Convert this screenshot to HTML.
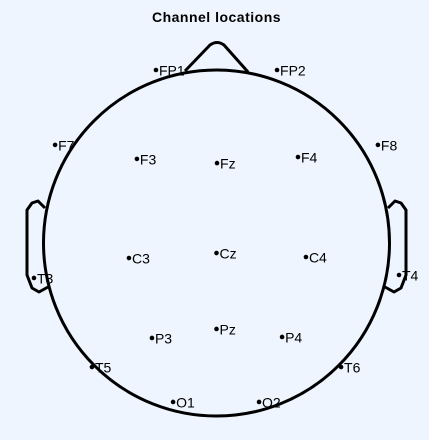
<!DOCTYPE html>
<html><head><meta charset="utf-8"><style>
html,body{margin:0;padding:0;background:#eef5fe;}
svg{display:block;font-family:"Liberation Sans",sans-serif;}
</style></head><body>
<svg id="chart" width="429" height="440" viewBox="0 0 429 440">
<rect x="0" y="0" width="429" height="440" fill="#eef5fe"/>
<text x="216.5" y="22" text-anchor="middle" font-weight="bold" font-size="14" letter-spacing="0.5">Channel locations</text>
<g id="head" fill="none" stroke="#000" stroke-width="3" stroke-linejoin="round"></g>
<g id="chans"></g>
</svg>
<script>
const channelNames = ["FP1","FP2","F7","F3","Fz","F4","F8","C3","Cz","C4","T3","T4","P3","Pz","P4","T5","T6","O1","O2"];
const channelX = [-0.35,0.35,-0.933,-0.460,0.003,0.471,0.933,-0.506,0,0.517,-1.055,1.055,-0.373,0,0.379,-0.720,0.720,-0.251,0.246];
const channelY = [1.0,1.0,0.567,0.486,0.462,0.497,0.567,-0.087,-0.058,-0.081,-0.202,-0.185,-0.549,-0.497,-0.543,-0.717,-0.717,-0.919,-0.919];

const CX = 216.5, CY = 243, R = 173;
const sx = v => CX + v * R;
const sy = v => CY - v * R;
const NS = "http://www.w3.org/2000/svg";
const head = document.getElementById('head');
function mk(tag, attrs, parent){const e=document.createElementNS(NS,tag);for(const k in attrs)e.setAttribute(k,attrs[k]);parent.appendChild(e);return e;}

const circ = mk('circle',{cx:CX,cy:CY,r:R},head);



const nose = mk('path',{d:"M185,71 L210,45 Q217,40 224,45 L248,72"},head);



const earPts = [[45,208],[38,201],[32,203],[27,210],[27,275],[32,288],[39,292],[48,287]];
const lp = "M"+earPts.map(p=>p[0]+","+p[1]).join(" L");
const rp = "M"+earPts.map(p=>(2*CX-p[0])+","+p[1]).join(" L");
const le = mk('path',{d:lp},head);


const re = mk('path',{d:rp},head);



const g = document.getElementById('chans');
channelNames.forEach((n,i)=>{
  const x=sx(channelX[i]), y=sy(channelY[i]);
  const d=mk('circle',{cx:x,cy:y,r:2.3,fill:'#000'},g);
  
  
  const t=mk('text',{x:x+3,y:y+5.5,'font-size':14,fill:'#000'},g);
  t.textContent=n;
  
  
});
</script>
</body></html>
